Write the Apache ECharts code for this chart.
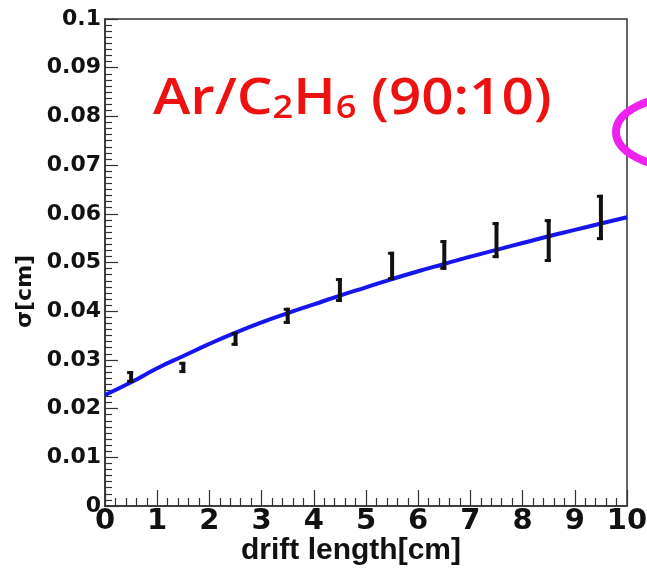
<!DOCTYPE html>
<html>
<head>
<meta charset="utf-8">
<script src="https://cdn.jsdelivr.net/npm/echarts@6/dist/echarts.min.js"></script>
<style>
html,body{margin:0;padding:0;background:#fff;}
#chart{width:647px;height:568px;}
</style>
</head>
<body>
<div id="chart"></div>
<script>
// Measured points (drift length bin centres) with error bar ranges
const driftX = [0.5, 1.5, 2.5, 3.5, 4.5, 5.5, 6.5, 7.5, 8.5, 9.5];
const sigmaLow = [0.0253, 0.0273, 0.0329, 0.0374, 0.0419, 0.0464, 0.0485, 0.0509, 0.0501, 0.0546];
const sigmaHigh = [0.0277, 0.0296, 0.0357, 0.0407, 0.0468, 0.0522, 0.0546, 0.0583, 0.0589, 0.0639];
// Fit curve
const fitX = [0, 0.5, 1, 1.5, 2, 2.5, 3, 3.5, 4, 4.5, 5, 5.5, 6, 6.5, 7, 7.5, 8, 8.5, 9, 9.5, 10];
const fitY = [0.0228, 0.0254, 0.0283, 0.0308, 0.0333, 0.0356, 0.0377, 0.0396, 0.0414, 0.0432, 0.0449, 0.0466, 0.0482, 0.0497, 0.0512, 0.0526, 0.054, 0.0554, 0.0567, 0.058, 0.0593];
const yTicks = ['0', '0.01', '0.02', '0.03', '0.04', '0.05', '0.06', '0.07', '0.08', '0.09', '0.1'];

const chart = echarts.init(document.getElementById('chart'), null, {renderer: 'canvas'});
const axisColor = '#333';
const errData = driftX.map((x, i) => [x, sigmaLow[i], sigmaHigh[i]]);
const fitData = fitX.map((x, i) => [x, fitY[i]]);

chart.setOption({
  backgroundColor: '#fff',
  animation: false,
  grid: {left: 105, right: 20, top: 19, bottom: 62, show: true, borderColor: axisColor, borderWidth: 1.5,
    backgroundColor: 'transparent', containLabel: false, outerBoundsMode: 'none'},
  xAxis: {
    type: 'value', min: 0, max: 10, interval: 1,
    axisLine: {show: true, lineStyle: {color: axisColor, width: 1.5}},
    axisTick: {show: true, inside: true, length: 16, lineStyle: {color: axisColor, width: 1.2}},
    minorTick: {show: true, splitNumber: 5, length: 8, lineStyle: {color: axisColor, width: 1.2}},
    splitLine: {show: false},
    axisLabel: {color: '#111', fontFamily: 'DejaVu Sans', fontWeight: 'bold', fontSize: 29, margin: 1},
    name: 'drift length[cm]', nameLocation: 'middle', nameGap: 30, nameMoveOverlap: false,
    nameTextStyle: {color: '#111', fontFamily: 'Liberation Sans', fontWeight: 'bold', fontSize: 30, padding: [0, 30, 0, 0]}
  },
  yAxis: {
    type: 'value', min: 0, max: 0.1, interval: 0.01,
    axisLine: {show: true, lineStyle: {color: axisColor, width: 1.5}},
    axisTick: {show: true, inside: true, length: 13, lineStyle: {color: axisColor, width: 1.2}},
    minorTick: {show: true, splitNumber: 8, length: 7, lineStyle: {color: axisColor, width: 1.2}},
    splitLine: {show: false},
    axisLabel: {color: '#111', fontFamily: 'DejaVu Sans', fontWeight: 'bold', fontSize: 22, margin: 4,
      formatter: (v) => yTicks[Math.round(v * 100)]},
    name: 'σ[cm]', nameLocation: 'middle', nameGap: 65, nameRotate: 90,
    nameTextStyle: {color: '#111', fontFamily: 'DejaVu Sans', fontWeight: 'bold', fontSize: 22, padding: [0, 58, 0, 0]}
  },
  series: [
    {
      type: 'line', data: fitData, smooth: true, showSymbol: false, symbol: 'none',
      lineStyle: {color: '#1515ee', width: 4}, z: 3
    },
    {
      type: 'custom', z: 4,
      renderItem: function (params, api) {
        const x = api.value(0);
        const lo = api.coord([x, api.value(1)]);
        const hi = api.coord([x, api.value(2)]);
        return {
          type: 'group',
          children: [
            {type: 'line', shape: {x1: lo[0], y1: lo[1], x2: hi[0], y2: hi[1]}, style: {stroke: '#111', lineWidth: 4}},
            {type: 'line', shape: {x1: hi[0] - 4, y1: hi[1] + 1.5, x2: hi[0] + 2, y2: hi[1] + 1.5}, style: {stroke: '#111', lineWidth: 3}},
            {type: 'line', shape: {x1: lo[0] - 4, y1: lo[1] - 1.5, x2: lo[0] + 2, y2: lo[1] - 1.5}, style: {stroke: '#111', lineWidth: 3}}
          ]
        };
      },
      encode: {x: 0, y: [1, 2]},
      data: errData
    }
  ],
  graphic: [
    {
      type: 'text', x: 153, y: 65, scaleX: 1.13, scaleY: 1, originX: 0, originY: 0, z: 10,
      style: {
        text: '{a|Ar/C}{s|2}{a|H}{s|6}{a| (90:10)}',
        x: 0, y: 0, verticalAlign: 'top', align: 'left',
        rich: {
          a: {fontFamily: 'Open Sans', fontWeight: 600, fontSize: 50, lineHeight: 60, fill: '#ee1111', verticalAlign: 'bottom'},
          s: {fontFamily: 'Open Sans', fontWeight: 600, fontSize: 32, lineHeight: 28, fill: '#ee1111', verticalAlign: 'bottom'}
        }
      }
    },
    {
      type: 'ellipse', z: 10,
      shape: {cx: 686, cy: 132, rx: 70, ry: 36},
      style: {fill: 'none', stroke: '#ee22ee', lineWidth: 8}
    }
  ]
});
</script>
</body>
</html>
